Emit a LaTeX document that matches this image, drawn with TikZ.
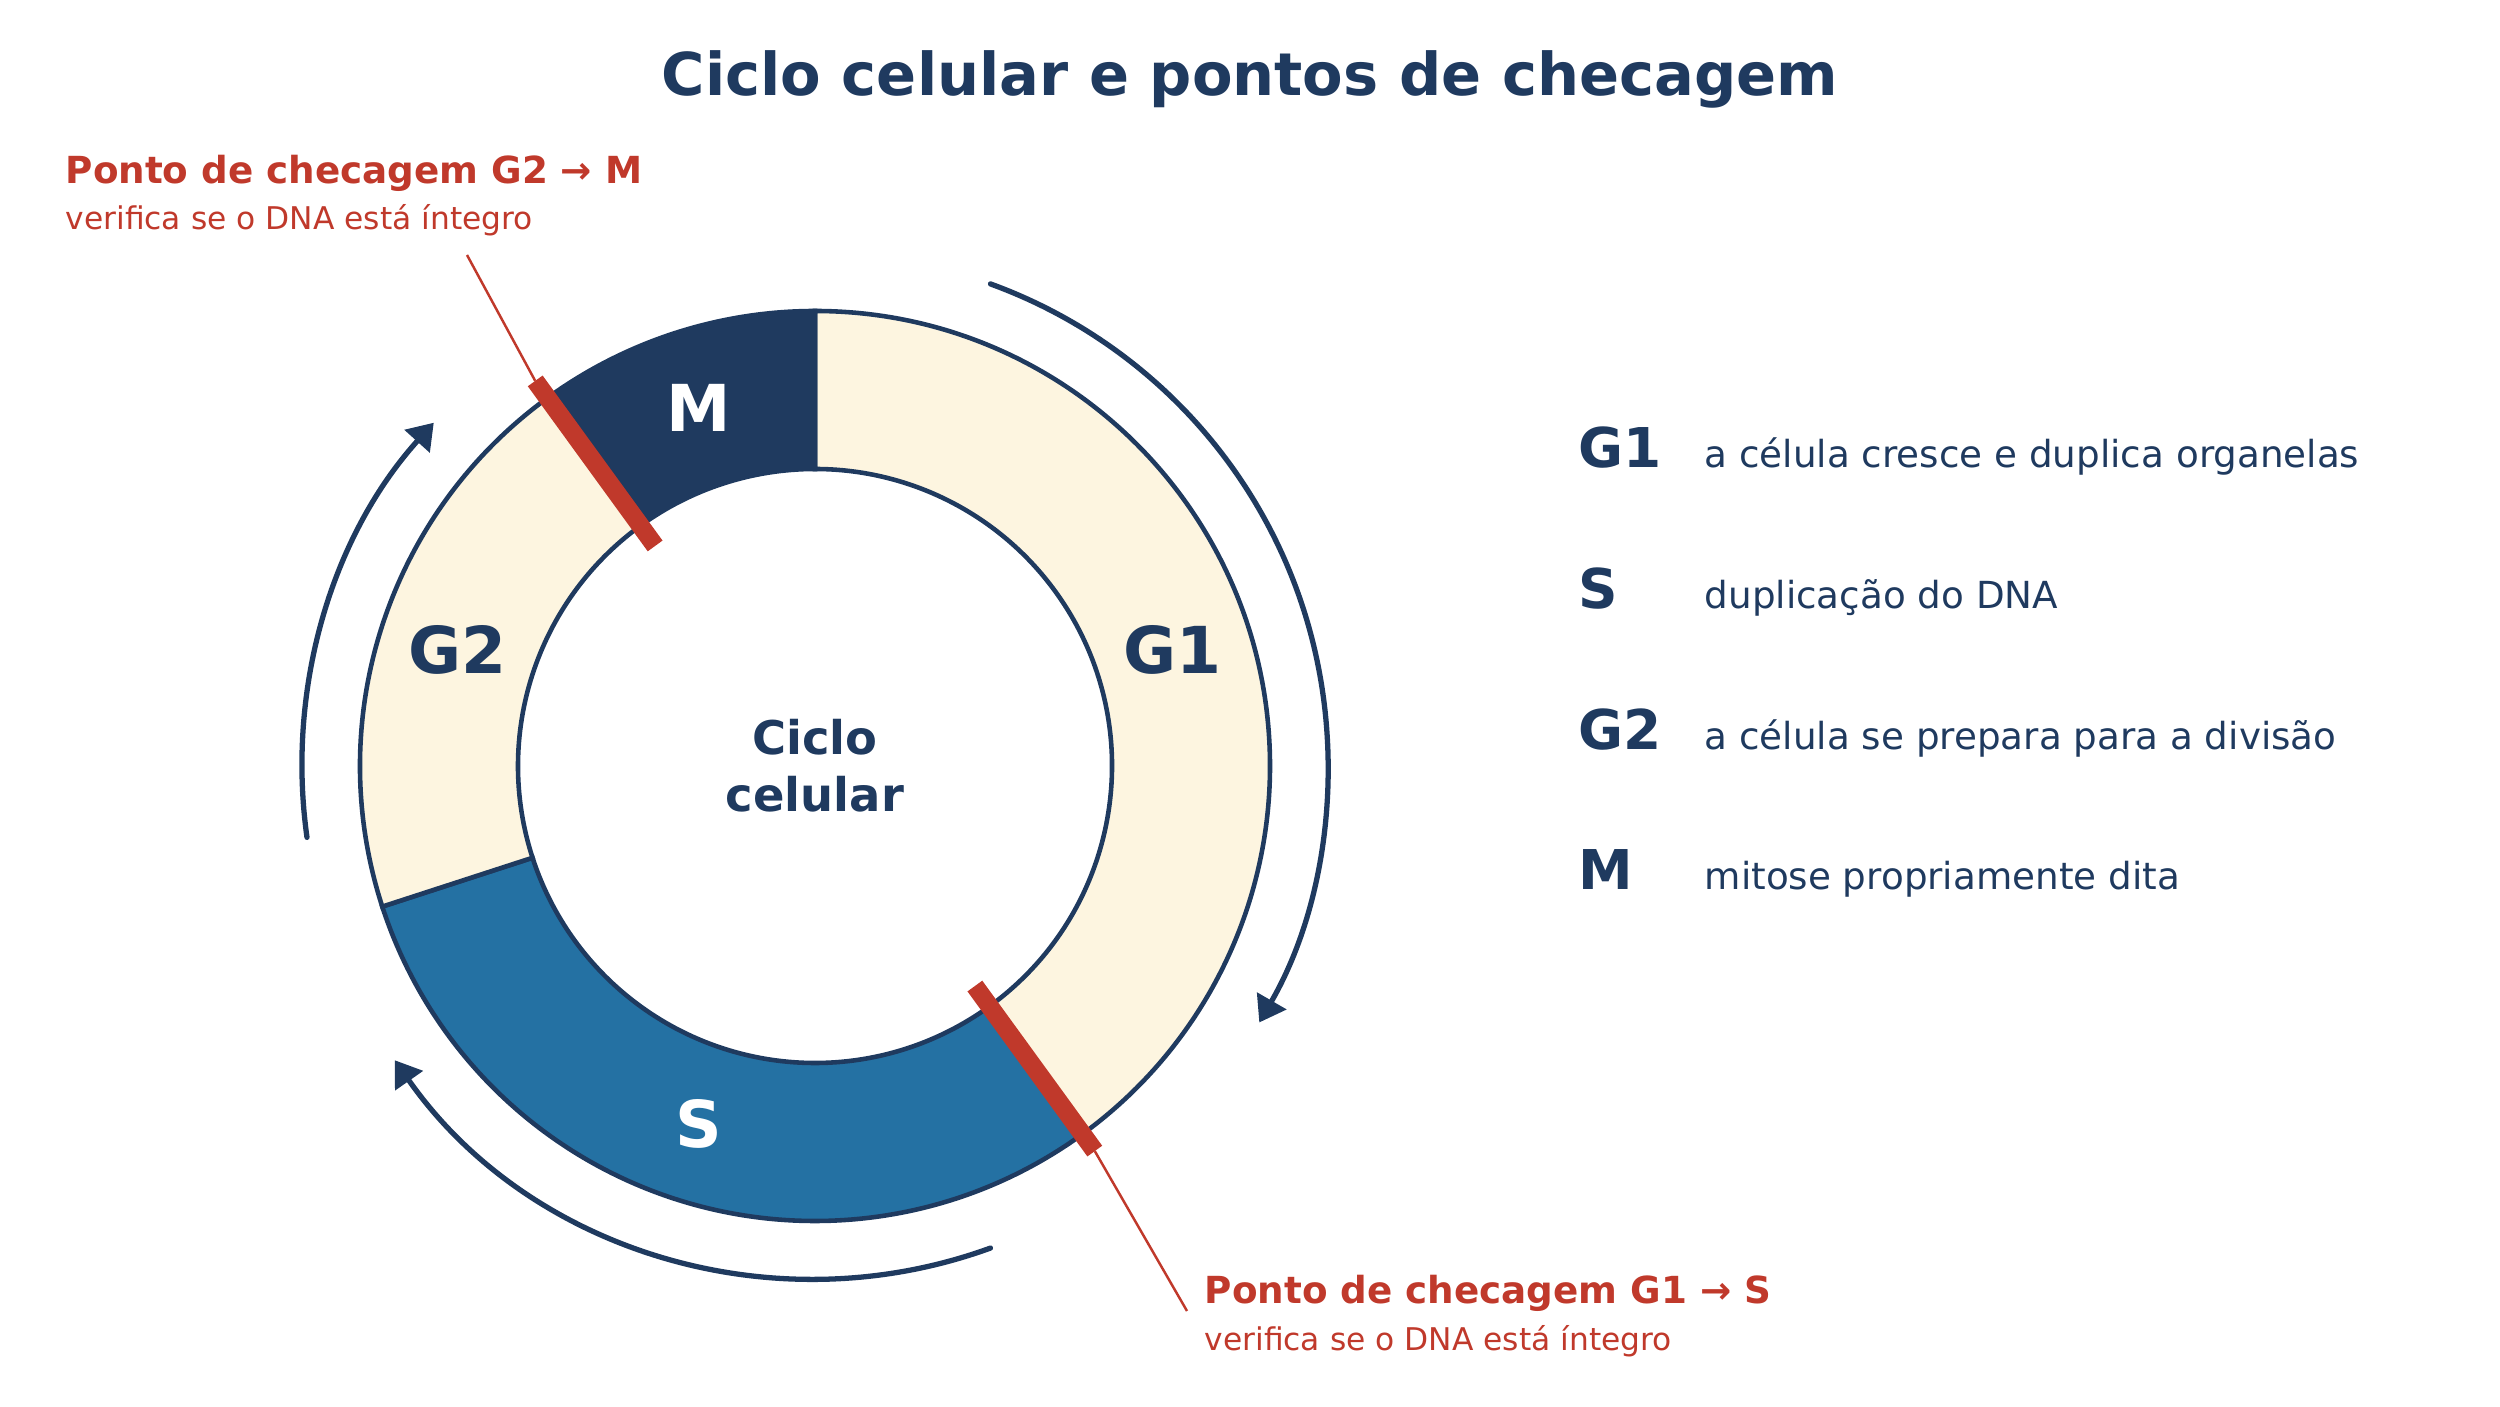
\documentclass[tikz,border=0pt]{standalone}
\usepackage{fontspec}
\setmainfont{DejaVu Sans}
\usepackage{tikz}
\usetikzlibrary{arrows.meta,calc}
\definecolor{navy}{HTML}{1F3A5F}
\definecolor{sblue}{HTML}{2471A3}
\definecolor{cream}{HTML}{FDF5E0}
\definecolor{cpred}{HTML}{C0392B}

\begin{document}
\begin{tikzpicture}[x = .01cm, y = .01cm,
  ring/.style = {draw = navy, line width = 1.3pt},
  cyclearrow/.style = {navy, line width = 1.5pt, line cap = round, -{Triangle[length = .25cm, width = .33cm]}},
  cpbar/.style = {cpred, line width = 5.2pt},
  leader/.style = {cpred, line width = .7pt},
  phase/.style = {font = \fontsize{18.4}{22}\selectfont\bfseries},
  legkey/.style = {navy, inner sep = 0, anchor = base west, font = \fontsize{15.6}{19}\selectfont\bfseries},
  legtext/.style = {navy, inner sep = 0, anchor = base west, font = \fontsize{10.6}{13}\selectfont},
  cphead/.style = {cpred, inner sep = 0, anchor = base west, font = \fontsize{10.6}{13}\selectfont\bfseries},
  cpsub/.style = {cpred, inner sep = 0, anchor = base west, font = \fontsize{8.9}{11}\selectfont}]
\useasboundingbox (0,0) rectangle (2500,1406);
\node[navy, inner sep = 0, anchor = base, font = \fontsize{16.8}{20}\selectfont\bfseries] (title) at (1250,1310) {Ciclo celular e pontos de checagem};
\begin{scope}[shift = {(815,640)}]
\draw[ring, fill = cream] (90:455) arc (90:-54:455) -- (-54:297) arc (-54:90:297) -- cycle;
\draw[ring, fill = sblue] (-54:455) arc (-54:-162:455) -- (-162:297) arc (-162:-54:297) -- cycle;
\draw[ring, fill = cream] (198:455) arc (198:126:455) -- (126:297) arc (126:198:297) -- cycle;
\draw[ring, fill = navy] (126:455) arc (126:90:455) -- (90:297) arc (90:126:297) -- cycle;
\draw[cpbar] (126:272) -- (126:476) coordinate (cpM);
\draw[cpbar] (-54:272) -- (-54:476) coordinate (cpS);
\draw[cyclearrow] (70:513) arc (70:-30:513);
\draw[cyclearrow] (-70:513) arc (-70:-145:513);
\draw[cyclearrow] (188:513) arc (188:138:513);
\node[phase, navy] (phG1) at (18:376) {G1};
\node[phase, white] (phS) at (252:376) {S};
\node[phase, navy] (phG2) at (162:376) {G2};
\node[phase, white] (phM) at (108:376) {M};
\node[navy, align = center, font = \fontsize{13.2}{16.2}\selectfont\bfseries] (centre) at (0,0) {Ciclo\\celular};
\end{scope}
\node[cphead] (cpMhead) at (65,1222) {Ponto de checagem G2 → M};
\node[cpsub] (cpMsub) at (65,1176) {verifica se o DNA está íntegro};
\node[cphead] (cpShead) at (1204,102) {Ponto de checagem G1 → S};
\node[cpsub] (cpSsub) at (1204,56) {verifica se o DNA está íntegro};
\coordinate (tagM) at (467,1151);
\coordinate (tagS) at (1187,95);
\draw[leader] (tagM) -- (cpM);
\draw[leader] (cpS) -- (tagS);
\node[legkey] (keyG1) at (1578,938) {G1};
\node[legtext] (txtG1) at (1704,938) {a célula cresce e duplica organelas};
\node[legkey] (keyS) at (1578,797) {S};
\node[legtext] (txtS) at (1704,797) {duplicação do DNA};
\node[legkey] (keyG2) at (1578,656) {G2};
\node[legtext] (txtG2) at (1704,656) {a célula se prepara para a divisão};
\node[legkey] (keyM) at (1578,516) {M};
\node[legtext] (txtM) at (1704,516) {mitose propriamente dita};
\end{tikzpicture}
\end{document}
